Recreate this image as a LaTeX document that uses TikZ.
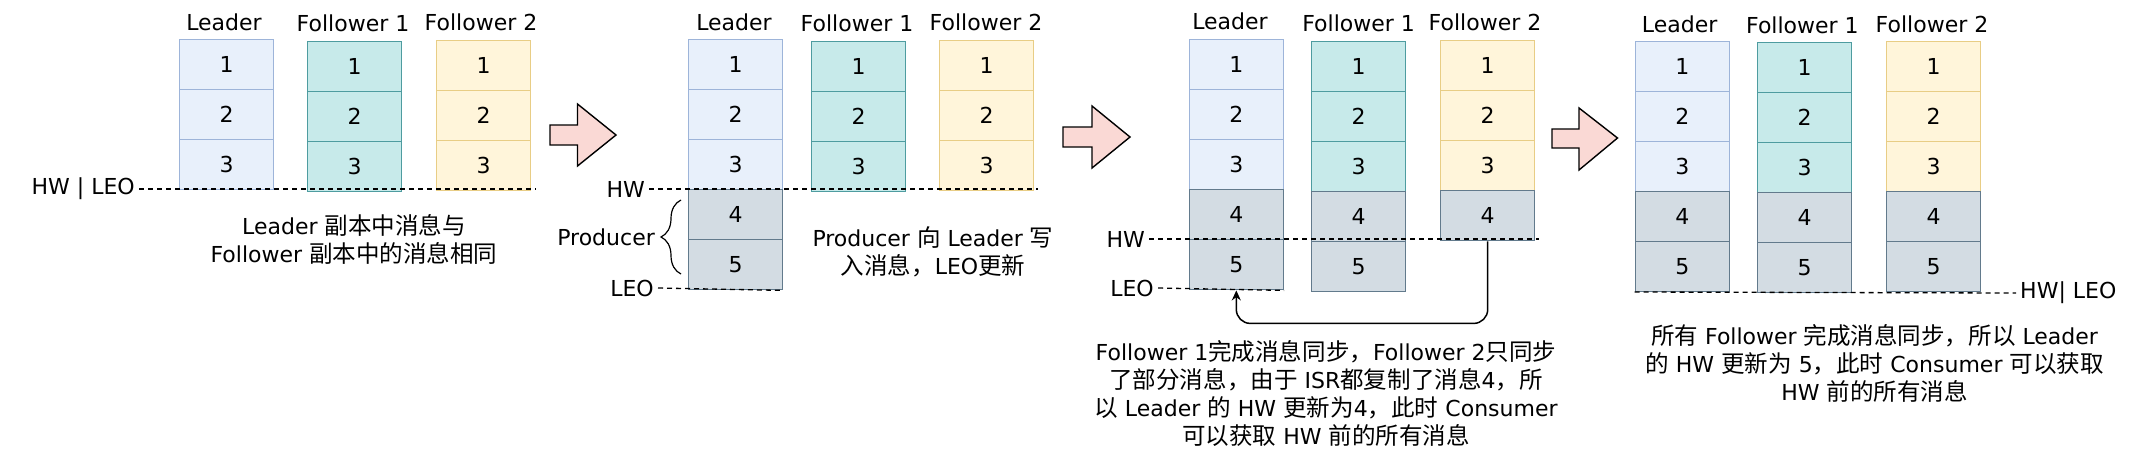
\documentclass[tikz,border=0pt]{standalone}
\usepackage{fontspec}
\setmainfont{DejaVu Sans}
\newfontfamily\cjk{Noto Sans CJK SC}[Scale=1.07]
\usetikzlibrary{arrows.meta,decorations.pathreplacing}
\definecolor{bfill}{HTML}{E8F0FB}
\definecolor{bdraw}{HTML}{9DB4D9}
\definecolor{tfill}{HTML}{C7EAEA}
\definecolor{tdraw}{HTML}{4E9CA0}
\definecolor{yfill}{HTML}{FFF5DA}
\definecolor{ydraw}{HTML}{E8CD85}
\definecolor{gfill}{HTML}{D3DCE3}
\definecolor{gdraw}{HTML}{627A8C}
\definecolor{afill}{HTML}{FAD9D5}
\newcommand\C[1]{{\cjk #1}}
\begin{document}
\begin{tikzpicture}[x=1pt,y=-1pt,
  every node/.style={font=\fontsize{22}{28}\selectfont},
  cell/.style={draw, line width=1.4pt, minimum width=94pt, minimum height=50pt, inner sep=0pt, anchor=north west},
  bcell/.style={cell, fill=bfill, draw=bdraw},
  tcell/.style={cell, fill=tfill, draw=tdraw},
  ycell/.style={cell, fill=yfill, draw=ydraw},
  gcell/.style={cell, fill=gfill, draw=gdraw},
  hdr/.style={anchor=center, inner sep=0pt},
  wlabel/.style={inner sep=4pt, anchor=east},
  hwdash/.style={dash pattern=on 5pt off 4pt, line width=1.3pt},
  blockarrow/.style={draw=black, fill=afill, line width=1.4pt, line join=miter},
  note/.style={align=center, inner sep=0pt},
  conn/.style={line width=1.5pt, rounded corners=14pt, -{Stealth[length=10pt,width=9pt]}}
]
\fill[white] (0,0) rectangle (2138,456);
\useasboundingbox (0,0) rectangle (2138,456);

% ---------------- Panel 1 ----------------
\node[hdr] (aLh) at (224,22) {Leader};
\node[hdr] (aFh) at (353,23) {Follower 1};
\node[hdr] (aGh) at (481,22) {Follower 2};
\foreach \i in {1,2,3} {
  \node[bcell] (aL\i) at (179,{39+50*(\i-1)}) {\i};
  \node[tcell] (aF\i) at (307,{40.5+50*(\i-1)}) {\i};
  \node[ycell] (aG\i) at (436,{40+50*(\i-1)}) {\i};
}
\node[wlabel] (aHW) at (139,189) {HW | LEO};
\coordinate (aHWend) at (536,189);
\draw[hwdash] (aHW.east) -- (aHWend);
\node[note] (aNote) at (354,239) {Leader \C{副本中消息与}\\Follower \C{副本中的消息相同}};

% arrow 1
\draw[blockarrow] (550,125) -- (577.5,125) -- (577.5,104) -- (616,135) -- (577.5,166) -- (577.5,145) -- (550,145) -- cycle;

% ---------------- Panel 2 ----------------
\node[hdr] (bLh) at (734,22) {Leader};
\node[hdr] (bFh) at (857,23) {Follower 1};
\node[hdr] (bGh) at (986,22) {Follower 2};
\foreach \i in {1,2,3} {
  \node[bcell] (bL\i) at (688,{39+50*(\i-1)}) {\i};
  \node[tcell] (bF\i) at (811,{40.5+50*(\i-1)}) {\i};
  \node[ycell] (bG\i) at (939,{40+50*(\i-1)}) {\i};
}
\foreach \i in {4,5} {
  \node[gcell] (bL\i) at (688,{39+50*(\i-1)}) {\i};
}
\node[wlabel] (bHW) at (649,189) {HW};
\coordinate (bHWend) at (1038,189);
\draw[hwdash] (bHW.east) -- (bHWend);
\node[wlabel] (bLEO) at (658,288) {LEO};
\draw[hwdash] (bLEO.east) -- (bL5.south east);
\draw[line width=1.2pt, decorate, decoration={brace, amplitude=20pt}] (681,274) -- (681,200);
\node[wlabel] (bProd) at (659,237) {Producer};
\node[note] (bNote) at (933,252) {Producer \C{向} Leader \C{写}\\\C{入消息，}LEO\C{更新}};

% arrow 2
\draw[blockarrow] (1063,127) -- (1092,127) -- (1092,106) -- (1130,137) -- (1092,168) -- (1092,147) -- (1063,147) -- cycle;

% ---------------- Panel 3 ----------------
\node[hdr] (cLh) at (1230,21) {Leader};
\node[hdr] (cFh) at (1358.6,23) {Follower 1};
\node[hdr] (cGh) at (1485,22) {Follower 2};
\foreach \i in {1,2,3} {
  \node[bcell] (cL\i) at (1188.6,{39+50*(\i-1)}) {\i};
  \node[tcell] (cF\i) at (1311,{40.5+50*(\i-1)}) {\i};
  \node[ycell] (cG\i) at (1440,{40+50*(\i-1)}) {\i};
}
\foreach \i in {4,5} {
  \node[gcell] (cL\i) at (1188.6,{39+50*(\i-1)}) {\i};
  \node[gcell] (cF\i) at (1311,{40.5+50*(\i-1)}) {\i};
}
\node[gcell] (cG4) at (1440,190) {4};
\node[wlabel] (cHW) at (1149,239) {HW};
\coordinate (cHWend) at (1539,239);
\draw[hwdash] (cHW.east) -- (cHWend);
\node[wlabel] (cLEO) at (1158,288) {LEO};
\draw[hwdash] (cLEO.east) -- (cL5.south east);
\draw[conn] (cG4.south) -- ++(0,82) -| (cL5.south);
\node[note] (cNote) at (1326,393.5) {Follower 1\C{完成消息同步，}Follower 2\C{只同步}\\
\C{了部分消息，由于} ISR\C{都复制了消息}4\C{，所}\\
\C{以} Leader \C{的} HW \C{更新为}4\C{，此时} Consumer\\
\C{可以获取} HW \C{前的所有消息}};

% arrow 3
\draw[blockarrow] (1552,129) -- (1579,129) -- (1579,108) -- (1617.5,138) -- (1579,170) -- (1579,148) -- (1552,148) -- cycle;

% ---------------- Panel 4 ----------------
\node[hdr] (dLh) at (1679.6,24) {Leader};
\node[hdr] (dFh) at (1802.4,25) {Follower 1};
\node[hdr] (dGh) at (1932,24) {Follower 2};
\foreach \i in {1,2,3} {
  \node[bcell] (dL\i) at (1634.7,{41+50*(\i-1)}) {\i};
  \node[tcell] (dF\i) at (1756.8,{42+50*(\i-1)}) {\i};
  \node[ycell] (dG\i) at (1885.8,{41+50*(\i-1)}) {\i};
}
\foreach \i in {4,5} {
  \node[gcell] (dL\i) at (1634.7,{41+50*(\i-1)}) {\i};
  \node[gcell] (dF\i) at (1756.8,{42+50*(\i-1)}) {\i};
  \node[gcell] (dG\i) at (1885.8,{41+50*(\i-1)}) {\i};
}
\node[inner sep=4pt, anchor=west] (dHW) at (2016,293) {HW| LEO};
\coordinate (dHWstart) at (1634.7,292);
\draw[hwdash] (dHWstart) -- (dHW.west);
\node[note] (dNote) at (1874.5,363.5) {\C{所有} Follower \C{完成消息同步，所以} Leader\\
\C{的} HW \C{更新为} 5\C{，此时} Consumer \C{可以获取}\\
HW \C{前的所有消息}};
\end{tikzpicture}
\end{document}
